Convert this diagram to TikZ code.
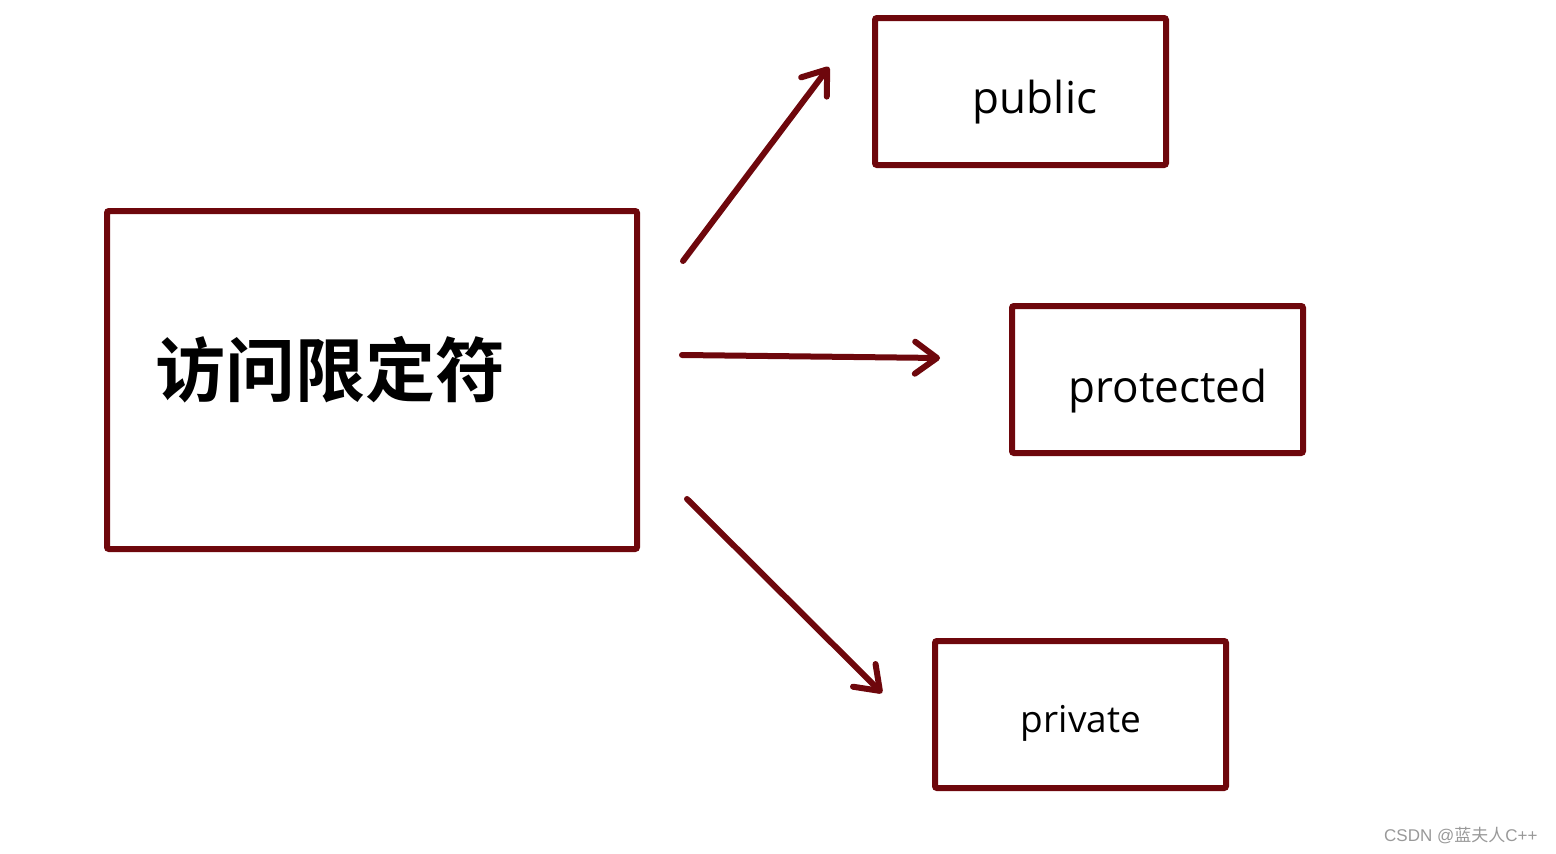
\documentclass[tikz,border=0pt]{standalone}
\usepackage{fontspec}
\setmainfont{Open Sans}
\newfontfamily\cjk{Noto Sans CJK SC}
\newfontfamily\cjkbold{Noto Sans CJK SC Bold}
\newfontfamily\wmfont{Liberation Sans}
\usetikzlibrary{arrows.meta}
\definecolor{darkred}{HTML}{6E070C}
\tikzset{
  boxstyle/.style={draw=darkred, line width=6pt, rounded corners=2pt, inner sep=0pt},
  arrowstyle/.style={draw=darkred, line width=6pt, line cap=round,
    -{Straight Barb[length=22pt,width=32pt,line cap=round,round]}},
  lbl/.style={font=\fontsize{44}{50}\selectfont}
}
\begin{document}
\begin{tikzpicture}[x=1pt,y=-1pt]
\useasboundingbox (0,0) rectangle (1556,854);
\draw[boxstyle] (107,211) rectangle (637,549);
\node[minimum width=530pt,minimum height=338pt] (main) at (372,380) {};
\node[font=\cjkbold\fontsize{70}{80}\selectfont, anchor=center] (maintxt) at (330,370) {访问限定符};
\node[boxstyle, minimum width=291pt, minimum height=147pt] (pub) at (1020.5,91.5) {};
\node[lbl] (pubtxt) at (1035,102) {public};
\node[boxstyle, minimum width=291pt, minimum height=147pt] (pro) at (1157.5,379.5) {};
\node[lbl] (protxt) at (1168,391) {protected};
\node[boxstyle, minimum width=291pt, minimum height=147pt] (pri) at (1080.5,714.5) {};
\node[font=\fontsize{37}{42}\selectfont] (pritxt) at (1081,723) {private};
\coordinate (s1) at (683,261);
\coordinate (e1) at (829,67);
\coordinate (s2) at (682,355);
\coordinate (e2) at (940,358);
\coordinate (s3) at (687,499);
\coordinate (e3) at (882,693);
\draw[arrowstyle] (s1) -- (e1);
\draw[arrowstyle] (s2) -- (e2);
\draw[arrowstyle] (s3) -- (e3);
\node[font=\fontsize{17}{19}\selectfont, text=black!40, anchor=east] (wm) at (1541,836) {\wmfont CSDN @\cjk 蓝夫人\wmfont C++};
\end{tikzpicture}
\end{document}
